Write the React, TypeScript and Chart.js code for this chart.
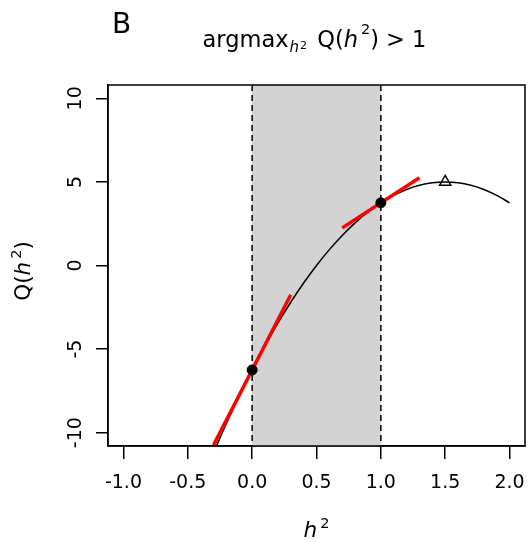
import React, { useEffect, useRef } from "react";
import { Chart, registerables } from "chart.js";

Chart.register(...registerables);

// Data
const curveX = [-0.3, -0.2, -0.1, 0, 0.1, 0.2, 0.3, 0.4, 0.5, 0.6, 0.7, 0.8, 0.9, 1.0, 1.1, 1.2, 1.3, 1.4, 1.5, 1.6, 1.7, 1.8, 1.9, 2.0];
const curveY = [-11.2, -9.45, -7.8, -6.25, -4.8, -3.45, -2.2, -1.05, 0, 0.95, 1.8, 2.55, 3.2, 3.75, 4.2, 4.55, 4.8, 4.95, 5, 4.95, 4.8, 4.55, 4.2, 3.75];
const tangent0X = [-0.3, 0.3];
const tangent0Y = [-10.75, -1.75];
const tangent1X = [0.7, 1.3];
const tangent1Y = [2.25, 5.25];
const pointX = [0, 1];
const pointY = [-6.25, 3.75];
const maxX = [1.5];
const maxY = [5];
const shadeRange = [0, 1];
const xTicks = [-1, -0.5, 0, 0.5, 1, 1.5, 2];
const yTicks = [-10, -5, 0, 5, 10];
const xRange = [-1.12, 2.12];
const yRange = [-10.8, 10.8];
const panelLabel = "B";

const FONT = "'DejaVu Sans', sans-serif";
const FS = 19; // tick labels
const LS = 21.5; // axis labels
const TS = 22.5; // title

const zip = (xs: number[], ys: number[]) => xs.map((x, i) => ({ x, y: ys[i] }));

type Seg = { text: string; size: number; italic?: boolean; dy?: number; gap?: number };

function segWidth(ctx: CanvasRenderingContext2D, s: Seg) {
  ctx.font = `${s.italic ? "italic " : ""}${s.size}px ${FONT}`;
  return ctx.measureText(s.text).width + (s.gap || 0);
}

function drawSegs(ctx: CanvasRenderingContext2D, segs: Seg[], cx: number, baseline: number) {
  const total = segs.reduce((a, s) => a + segWidth(ctx, s), 0);
  let x = cx - total / 2;
  ctx.textAlign = "left";
  ctx.textBaseline = "alphabetic";
  for (const s of segs) {
    ctx.font = `${s.italic ? "italic " : ""}${s.size}px ${FONT}`;
    ctx.fillText(s.text, x, baseline + (s.dy || 0));
    x += ctx.measureText(s.text).width + (s.gap || 0);
  }
}

const decorPlugin = {
  id: "decor",
  beforeDatasetsDraw(chart: any) {
    const { ctx, chartArea } = chart;
    const xs = chart.scales.x;
    const x0 = xs.getPixelForValue(shadeRange[0]);
    const x1 = xs.getPixelForValue(shadeRange[1]);
    ctx.save();
    ctx.fillStyle = "#D3D3D3";
    ctx.fillRect(x0, chartArea.top, x1 - x0, chartArea.bottom - chartArea.top);
    ctx.strokeStyle = "#000";
    ctx.lineWidth = 1.5;
    ctx.setLineDash([6, 4]);
    for (const xv of [x0, x1]) {
      ctx.beginPath();
      ctx.moveTo(xv, chartArea.top);
      ctx.lineTo(xv, chartArea.bottom);
      ctx.stroke();
    }
    ctx.restore();
  },
  afterDraw(chart: any) {
    const { ctx, chartArea } = chart;
    const ys = chart.scales.y;
    ctx.save();
    ctx.strokeStyle = "#000";
    ctx.lineWidth = 1.5;
    ctx.setLineDash([]);
    ctx.strokeRect(chartArea.left, chartArea.top, chartArea.right - chartArea.left, chartArea.bottom - chartArea.top);

    ctx.fillStyle = "#000";
    // panel label
    ctx.font = `28px ${FONT}`;
    ctx.textAlign = "left";
    ctx.textBaseline = "alphabetic";
    ctx.fillText(panelLabel, 112, 33);

    const cx = (chartArea.left + chartArea.right) / 2;
    // title
    drawSegs(
      ctx,
      [
        { text: "argmax", size: TS, gap: 1 },
        { text: "h", size: 15, italic: true, dy: 5, gap: 1 },
        { text: "2", size: 11, dy: 2, gap: 3 },
        { text: " Q(", size: TS },
        { text: "h", size: TS, italic: true, gap: 3 },
        { text: "2", size: 14.5, dy: -13 },
        { text: ") > 1", size: TS },
      ],
      cx - 2,
      47
    );

    // x axis label
    drawSegs(
      ctx,
      [
        { text: "h", size: LS, italic: true, gap: 3 },
        { text: "2", size: 14.5, dy: -9.5 },
      ],
      cx,
      537
    );

    // y tick labels (rotated, R style)
    ctx.font = `${FS}px ${FONT}`;
    for (const v of yTicks) {
      const py = ys.getPixelForValue(v);
      ctx.save();
      ctx.translate(81, py);
      ctx.rotate(-Math.PI / 2);
      ctx.textAlign = "center";
      ctx.textBaseline = "alphabetic";
      ctx.fillText(String(v), 0, 0);
      ctx.restore();
    }

    // y axis label
    ctx.save();
    ctx.translate(30, 271);
    ctx.rotate(-Math.PI / 2);
    drawSegs(
      ctx,
      [
        { text: "Q(", size: LS },
        { text: "h", size: LS, italic: true, gap: 3 },
        { text: "2", size: 14.5, dy: -9.5 },
        { text: ")", size: LS },
      ],
      0,
      0
    );
    ctx.restore();
    ctx.restore();
  },
};

export default function App() {
  const ref = useRef<HTMLCanvasElement | null>(null);
  useEffect(() => {
    document.body.style.margin = "0";
    const canvas = ref.current!;
    const chart = new Chart(canvas, {
      type: "scatter",
      data: {
        datasets: [
          {
            data: zip(pointX, pointY),
            pointRadius: 5,
            pointBackgroundColor: "#000",
            pointBorderColor: "#000",
            showLine: false,
          },
          {
            data: zip(maxX, maxY),
            pointStyle: "triangle",
            pointRadius: 6.5,
            pointBackgroundColor: "rgba(0,0,0,0)",
            pointBorderColor: "#000",
            pointBorderWidth: 1.5,
            showLine: false,
          },
          {
            data: zip(tangent0X, tangent0Y),
            showLine: true,
            borderColor: "#FF0000",
            borderWidth: 3.5,
            pointRadius: 0,
          },
          {
            data: zip(tangent1X, tangent1Y),
            showLine: true,
            borderColor: "#FF0000",
            borderWidth: 3.5,
            pointRadius: 0,
          },
          {
            data: zip(curveX, curveY),
            showLine: true,
            borderColor: "#000",
            borderWidth: 1.5,
            pointRadius: 0,
            cubicInterpolationMode: "monotone",
          },
        ] as any,
      },
      options: {
        animation: false,
        responsive: false,
        layout: { autoPadding: false, padding: { top: 85, left: 0, right: 5, bottom: 0 } },
        plugins: { legend: { display: false }, tooltip: { enabled: false }, title: { display: false } },
        scales: {
          x: {
            type: "linear",
            min: xRange[0],
            max: xRange[1],
            afterBuildTicks: (s: any) => {
              s.ticks = xTicks.map((v) => ({ value: v }));
            },
            afterFit: (s: any) => {
              s.height = 96;
              s.paddingLeft = 0;
              s.paddingRight = 0;
            },
            grid: { display: true, drawOnChartArea: false, drawTicks: true, tickLength: 13, color: "#000", lineWidth: 1.5 },
            border: { display: true, color: "#000", width: 1.5 },
            ticks: {
              color: "#000",
              font: { family: FONT, size: FS },
              padding: 13,
              maxRotation: 0,
              minRotation: 0,
              autoSkip: false,
              callback: (v: any) => Number(v).toFixed(1),
            },
          },
          y: {
            type: "linear",
            min: yRange[0],
            max: yRange[1],
            afterBuildTicks: (s: any) => {
              s.ticks = yTicks.map((v) => ({ value: v }));
            },
            afterFit: (s: any) => {
              s.width = 108;
              s.paddingTop = 0;
              s.paddingBottom = 0;
            },
            grid: { display: true, drawOnChartArea: false, drawTicks: true, tickLength: 12, color: "#000", lineWidth: 1.5 },
            border: { display: true, color: "#000", width: 1.5 },
            ticks: { display: false },
          },
        },
      },
      plugins: [decorPlugin],
    });
    return () => chart.destroy();
  }, []);
  return (
    <div style={{ width: 530, height: 542, background: "#fff" }}>
      <canvas ref={ref} width={530} height={542} />
    </div>
  );
}
